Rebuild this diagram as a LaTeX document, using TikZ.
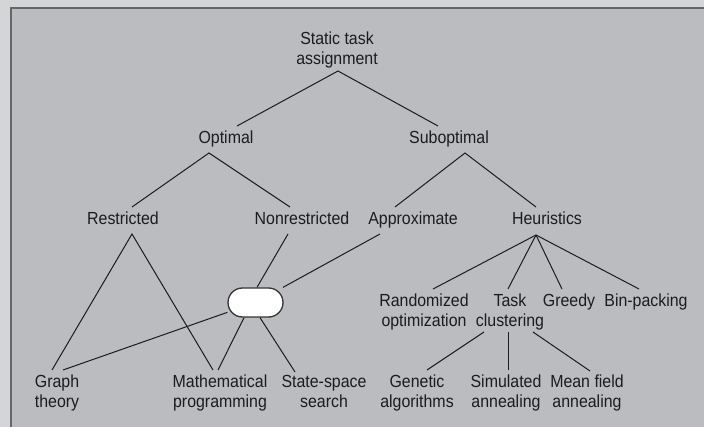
\documentclass[tikz,border=0pt]{standalone}
\usepackage{fontspec}
\setmainfont[FakeStretch=0.91]{Liberation Sans}
\usetikzlibrary{calc}
\definecolor{outerbg}{HTML}{D4D5D7}
\definecolor{panelbg}{HTML}{BBBCC0}
\definecolor{framecol}{HTML}{66676A}
\definecolor{inkcol}{HTML}{1C1C1C}
\newcommand{\twoline}[2]{\begin{tabular}[t]{@{}c@{}}#1\\#2\end{tabular}}
\tikzset{
  label/.style={anchor=base, inner sep=0pt, text=inkcol,
    font=\fontsize{17.5}{20}\selectfont},
  link/.style={draw=inkcol, line width=1pt},
  pillbox/.style={draw=black!80, line width=1.3pt, fill=white,
    rounded corners=14.5pt, minimum width=55pt, minimum height=29pt,
    inner sep=0pt},
}
\begin{document}
\begin{tikzpicture}[x=1pt, y=-1pt]
\useasboundingbox (0,0) rectangle (704,427);
% framed grey panel
\fill[outerbg] (0,0) rectangle (704,427);
\fill[panelbg] (11,8) rectangle (704,427);
\draw[framecol, line width=2pt] (11,427) -- (11,8) -- (704,8);

% labels
\node[label] (sta) at (337,45)  {\twoline{Static task}{assignment}};
\node[label] (opt) at (226,144) {Optimal};
\node[label] (sub) at (449,144) {Suboptimal};
\node[label] (res) at (123,225) {Restricted};
\node[label] (non) at (302,225) {Nonrestricted};
\node[label] (app) at (413,225) {Approximate};
\node[label] (heu) at (547,225) {Heuristics};
\node[pillbox] (pill) at (255.5,302.5) {};
\node[label] (rnd) at (424,307) {\twoline{Randomized}{optimization}};
\node[label] (tsk) at (510,307) {\twoline{Task}{clustering}};
\node[label] (grd) at (569,307) {Greedy};
\node[label] (bin) at (646,307) {Bin-packing};
\node[label] (gra) at (57,388)  {\twoline{Graph}{theory}};
\node[label] (mat) at (220,388) {\twoline{Mathematical}{programming}};
\node[label] (sss) at (324,388) {\twoline{State-space}{search}};
\node[label] (gen) at (417,388) {\twoline{Genetic}{algorithms}};
\node[label] (sim) at (506,388) {\twoline{Simulated}{annealing}};
\node[label] (mfa) at (587,388) {\twoline{Mean field}{annealing}};

% tree connectors
\draw[link] ($(opt.base)+(11,-18)$) -- ($(sta.base)+(1,26)$) -- ($(sub.base)+(-11,-18)$);
\draw[link] ($(res.base)+(9,-18)$) -- ($(opt.base)+(-17,9)$) -- ($(non.base)+(-12,-18)$);
\draw[link] ($(app.base)+(-18,-18)$) -- ($(sub.base)+(16,9)$) -- ($(heu.base)+(-11,-18)$);
\draw[link] ($(gra.base)+(-5,-18)$) -- ($(res.base)+(9,9)$) -- ($(mat.base)+(-7,-18)$);
\draw[link] ($(non.base)+(-14,9)$) -- ($(pill.north)+(1.5,0)$);
\draw[link] ($(app.base)+(-33,9)$) -- (pill);
\draw[link] (pill) -- ($(gra.base)+(6,-18)$);
\draw[link] ($(pill.south)+(-11.5,0)$) -- ($(mat.base)+(-2,-18)$);
\draw[link] ($(pill.south)+(4.5,0)$) -- ($(sss.base)+(-29,-16)$);
\draw[link] ($(heu.base)+(-11,10)$) -- ($(rnd.base)+(9,-18)$);
\draw[link] ($(heu.base)+(-11,10)$) -- ($(tsk.base)+(-2,-18)$);
\draw[link] ($(heu.base)+(-11,10)$) -- ($(grd.base)+(-7,-18)$);
\draw[link] ($(heu.base)+(-11,10)$) -- ($(bin.base)+(-7,-18)$);
\draw[link] ($(tsk.base)+(-26,25)$) -- ($(gen.base)+(10,-18)$);
\draw[link] ($(tsk.base)+(-2,25)$) -- ($(sim.base)+(2,-18)$);
\draw[link] ($(tsk.base)+(23,25)$) -- ($(mfa.base)+(3,-17)$);
\end{tikzpicture}
\end{document}
